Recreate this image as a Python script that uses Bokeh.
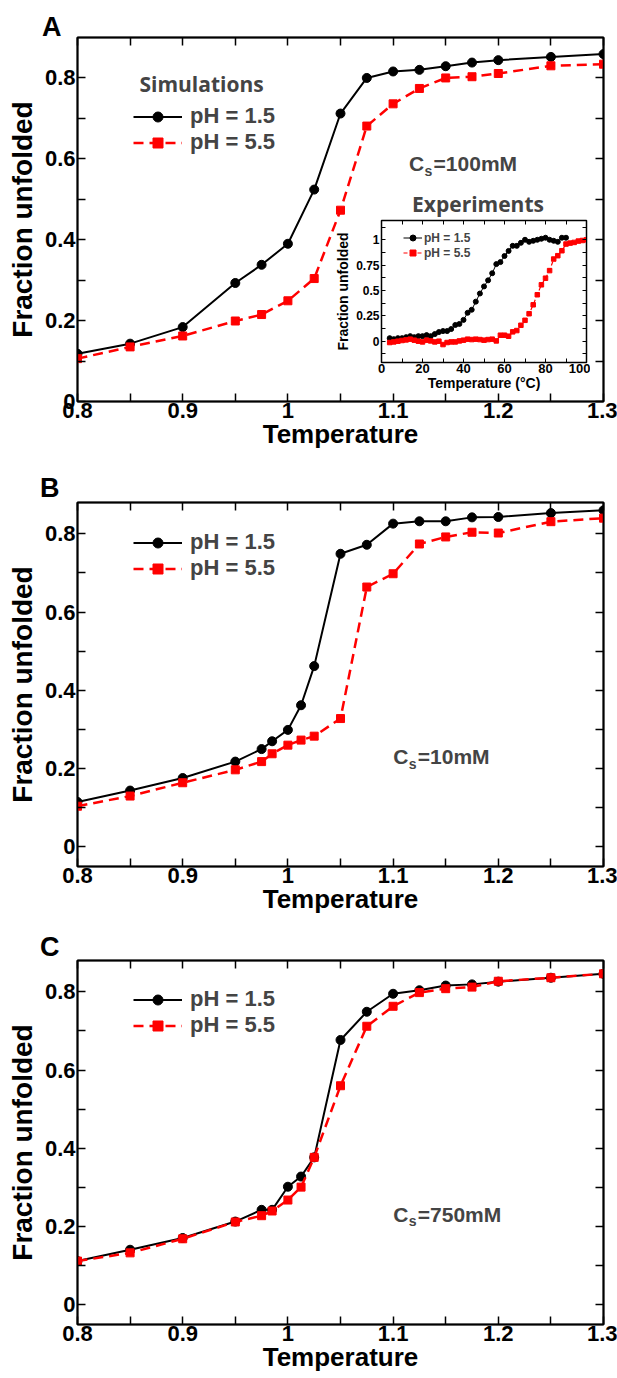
from bokeh.plotting import figure
from bokeh.models import (Range1d, FixedTicker, LinearAxis, CustomJSTickFormatter,
                          Label, Legend, LegendItem, Div)
from bokeh.layouts import column
from bokeh.embed import file_html
from bokeh.resources import INLINE

# ---------------- data ----------------
temps_a = [0.8, 0.85, 0.9, 0.95, 0.975, 1.0, 1.025, 1.05, 1.075, 1.1, 1.125, 1.15, 1.175, 1.2, 1.25, 1.3]
a_ph15 = [0.118, 0.143, 0.184, 0.293, 0.338, 0.390, 0.524, 0.712, 0.800, 0.816, 0.820, 0.829, 0.838, 0.844, 0.852, 0.859]
a_ph55 = [0.106, 0.135, 0.162, 0.199, 0.215, 0.249, 0.304, 0.473, 0.681, 0.736, 0.774, 0.800, 0.803, 0.811, 0.830, 0.834]

temps_bc = [0.8, 0.85, 0.9, 0.95, 0.975, 0.985, 1.0, 1.0125, 1.025, 1.05, 1.075, 1.1, 1.125, 1.15, 1.175, 1.2, 1.25, 1.3]
b_ph15 = [0.115, 0.144, 0.176, 0.218, 0.250, 0.270, 0.299, 0.362, 0.462, 0.749, 0.772, 0.826, 0.832, 0.832, 0.842, 0.843, 0.853, 0.860]
b_ph55 = [0.104, 0.130, 0.164, 0.197, 0.218, 0.238, 0.260, 0.273, 0.283, 0.328, 0.664, 0.698, 0.774, 0.792, 0.804, 0.802, 0.831, 0.840]
c_ph15 = [0.112, 0.141, 0.171, 0.213, 0.243, 0.243, 0.302, 0.328, 0.377, 0.677, 0.749, 0.795, 0.804, 0.816, 0.819, 0.826, 0.836, 0.846]
c_ph55 = [0.112, 0.133, 0.169, 0.212, 0.228, 0.240, 0.268, 0.301, 0.377, 0.560, 0.712, 0.763, 0.798, 0.808, 0.812, 0.827, 0.836, 0.846]

exp_t15 = [4, 6, 8, 10, 12, 14, 16, 18, 20, 22, 24, 26, 28, 30, 32, 34, 36, 38, 40, 42, 44, 46,
           48, 50, 52, 54, 56, 58, 60, 62, 64, 66, 68, 70, 72, 74, 76, 78, 80, 82, 84, 86, 88, 90]
exp_f15 = [0.03, 0.02, 0.03, 0.03, 0.04, 0.05, 0.04, 0.05, 0.05, 0.06, 0.05, 0.07, 0.09, 0.10, 0.10,
           0.12, 0.16, 0.17, 0.21, 0.28, 0.31, 0.39, 0.47, 0.54, 0.60, 0.67, 0.76, 0.78, 0.84, 0.89,
           0.94, 0.94, 0.97, 1.00, 0.98, 0.99, 1.00, 1.01, 1.02, 1.00, 0.99, 0.98, 1.02, 1.02]
exp_t55 = [4, 6, 8, 10, 12, 14, 16, 18, 20, 22, 24, 26, 28, 30, 32, 34, 36, 38, 40, 42, 44, 46, 48,
           50, 52, 54, 56, 58, 60, 62, 64, 66, 68, 70, 72, 74, 76, 78, 80, 82, 84, 86, 88, 90, 92,
           94, 96, 98, 100]
exp_f55 = [-0.013, -0.007, 0.0, 0.007, 0.013, 0.02, 0.01, 0.0, -0.007, 0.01, 0.003, -0.007, 0.0,
           -0.033, -0.013, -0.007, -0.007, 0.003, 0.01, 0.02, 0.016, 0.02, 0.016, 0.01, 0.016, 0.02,
           0.003, 0.059, 0.059, 0.049, 0.092, 0.105, 0.157, 0.206, 0.271, 0.359, 0.458, 0.556, 0.621,
           0.696, 0.81, 0.843, 0.892, 0.958, 0.967, 0.974, 0.987, 0.993, 1.0]

x_ticks = [0.8, 0.9, 1.0, 1.1, 1.2, 1.3]
x_tick_labels = ["0.8", "0.9", "1", "1.1", "1.2", "1.3"]
x_minor = [0.85, 0.95, 1.05, 1.15, 1.25]
y_ticks = [0.0, 0.2, 0.4, 0.6, 0.8]
y_tick_labels = ["0", "0.2", "0.4", "0.6", "0.8"]
y_minor = [0.1, 0.3, 0.5, 0.7]

ix_ticks = [0, 20, 40, 60, 80, 100]
ix_tick_labels = ["0", "20", "40", "60", "80", "100"]
ix_minor = [10, 30, 50, 70, 90]
iy_ticks = [0.0, 0.25, 0.5, 0.75, 1.0]
iy_tick_labels = ["0", "0.25", "0.5", "0.75", "1"]
iy_minor = [-0.125, 0.125, 0.375, 0.625, 0.875, 1.125]

series_labels = ["pH = 1.5", "pH = 5.5"]
panel_letters = ["A", "B", "C"]
salt_labels = ["=100mM", "=10mM", "=750mM"]

FONT = "Liberation Sans"
RED = "#ff0000"
LIFT = 6  # px: labels render slightly below their anchor baseline


def fmt(vals, labels):
    return CustomJSTickFormatter(args=dict(vals=vals, labels=labels), code="""
        for (let i = 0; i < vals.length; i++) {
            if (Math.abs(vals[i] - tick) < 1e-9) return labels[i];
        }
        return '';
    """)


BLANK = "return '';"


def style_axis(ax, tick_len, lw, label_px, font_size):
    ax.axis_line_color = "black"
    ax.axis_line_width = lw
    ax.major_tick_in = tick_len
    ax.major_tick_out = 0
    ax.minor_tick_in = tick_len
    ax.minor_tick_out = 0
    ax.major_tick_line_width = lw
    ax.minor_tick_line_width = lw
    ax.major_tick_line_color = "black"
    ax.minor_tick_line_color = "black"
    ax.major_label_text_font = FONT
    ax.major_label_text_font_style = "bold"
    ax.major_label_text_font_size = font_size
    ax.major_label_text_color = "black"
    ax.axis_label_text_font = FONT
    ax.axis_label_text_font_style = "bold"
    ax.axis_label_text_font_size = label_px
    ax.axis_label_text_color = "black"


def make_panel(yr, top, fh, bottom, ys15, ys55, temps, legend_y):
    p = figure(frame_width=526, frame_height=fh,
               x_range=Range1d(0.8, 1.3), y_range=Range1d(*yr),
               min_border_left=77, min_border_right=14, min_border_top=top,
               min_border_bottom=bottom,
               output_backend="svg", toolbar_location=None,
               x_axis_label="Temperature", y_axis_label="Fraction unfolded")
    p.grid.visible = False
    p.outline_line_color = "black"
    p.outline_line_width = 2
    p.background_fill_color = "white"
    p.border_fill_color = "white"

    xt = FixedTicker(ticks=x_ticks, minor_ticks=x_minor)
    yt = FixedTicker(ticks=y_ticks, minor_ticks=y_minor)
    p.xaxis.ticker = xt
    p.yaxis.ticker = yt
    p.xaxis.formatter = fmt(x_ticks, x_tick_labels)
    p.yaxis.formatter = fmt(y_ticks, y_tick_labels)
    for ax in p.xaxis + p.yaxis:
        style_axis(ax, 8, 1.5, "26px", "22px")
    p.xaxis.major_label_standoff = 1
    p.xaxis.axis_label_standoff = -2
    p.yaxis.major_label_standoff = 2
    p.yaxis.axis_label_standoff = 4
    p.yaxis.axis_label_text_font_size = "28px"

    top_ax = LinearAxis(ticker=xt, formatter=CustomJSTickFormatter(code=BLANK),
                        major_label_standoff=0)
    right_ax = LinearAxis(ticker=yt, formatter=CustomJSTickFormatter(code=BLANK),
                          major_label_standoff=0)
    style_axis(top_ax, 8, 1.5, "10px", "10px")
    style_axis(right_ax, 8, 1.5, "10px", "10px")
    p.add_layout(top_ax, "above")
    p.add_layout(right_ax, "right")

    l1 = p.line(temps, ys15, line_color="black", line_width=2)
    s1 = p.scatter(temps, ys15, marker="circle", size=9, fill_color="black", line_color="black")
    l2 = p.line(temps, ys55, line_color=RED, line_width=2.5, line_dash="10 6")
    s2 = p.scatter(temps, ys55, marker="square", size=8, fill_color=RED, line_color=RED)

    leg = Legend(items=[LegendItem(label=series_labels[0], renderers=[l1, s1]),
                        LegendItem(label=series_labels[1], renderers=[l2, s2])],
                 location=(56, legend_y), glyph_width=49, glyph_height=25,
                 label_height=25, label_standoff=8, spacing=0, padding=0, margin=0,
                 border_line_alpha=0, background_fill_alpha=0,
                 label_text_font=FONT, label_text_font_style="bold",
                 label_text_font_size="22px")
    p.add_layout(leg)
    return p


# page y: A 0..469 (frame 37..401); B 469..927 (frame 502..866); C 927..1377 (frame 960..1324)
pA = make_panel((0.0, 0.9), 37, 364, 68, a_ph15, a_ph55, temps_a, 246)
pB = make_panel((-0.05, 0.88), 33, 364, 61, b_ph15, b_ph55, temps_bc, 285)
pC = make_panel((-0.05, 0.88), 33, 364, 50, c_ph15, c_ph55, temps_bc, 286)


def salt(p, x, y, idx):
    common = dict(text_font=FONT, text_font_style="bold", text_baseline="alphabetic")
    p.add_layout(Label(x=x, y=y, y_offset=LIFT, text="C", text_font_size="21px", **common))
    p.add_layout(Label(x=x, y=y, x_offset=15.5, y_offset=LIFT - 7, text="s",
                       text_font_size="14px", **common))
    p.add_layout(Label(x=x, y=y, x_offset=24.5, y_offset=LIFT, text=salt_labels[idx],
                       text_font_size="21px", **common))


salt(pA, 1.1152, 0.573, 0)
salt(pB, 1.1002, 0.215, 1)
salt(pC, 1.1002, 0.216, 2)

pA.add_layout(Label(x=0.8589, y=0.7707, y_offset=LIFT, text="Simulations", text_font="Open Sans",
                    text_font_style="bold", text_font_size="21px", text_baseline="alphabetic"))
pA.add_layout(Label(x=1.1807, y=0.4723, y_offset=LIFT, text="Experiments", text_font="Open Sans",
                    text_font_style="bold", text_font_size="21px", text_baseline="alphabetic",
                    text_align="center"))

# ---------------- inset ----------------
ins = figure(frame_width=205, frame_height=142,
             x_range=Range1d(0, 100), y_range=Range1d(-0.21, 1.19),
             min_border_left=44, min_border_right=4, min_border_top=4, min_border_bottom=33,
             output_backend="svg", toolbar_location=None,
             x_axis_label="Temperature (°C)", y_axis_label="Fraction unfolded")
ins.grid.visible = False
ins.outline_line_color = "black"
ins.outline_line_width = 1.5
ins.background_fill_color = "white"
ins.border_fill_alpha = 0
ixt = FixedTicker(ticks=ix_ticks, minor_ticks=ix_minor)
iyt = FixedTicker(ticks=iy_ticks, minor_ticks=iy_minor)
ins.xaxis.ticker = ixt
ins.yaxis.ticker = iyt
ins.xaxis.formatter = fmt(ix_ticks, ix_tick_labels)
ins.yaxis.formatter = fmt(iy_ticks, iy_tick_labels)
for ax in ins.xaxis + ins.yaxis:
    style_axis(ax, 4, 1, "14px", "13px")
ins.yaxis.major_label_text_font_size = "12px"
ins.xaxis.major_label_standoff = 1
ins.xaxis.axis_label_standoff = -1
ins.yaxis.major_label_standoff = 2
ins.yaxis.axis_label_standoff = 2
itop = LinearAxis(ticker=ixt, formatter=CustomJSTickFormatter(code=BLANK), major_label_standoff=0)
iright = LinearAxis(ticker=iyt, formatter=CustomJSTickFormatter(code=BLANK), major_label_standoff=0)
style_axis(itop, 4, 1, "6px", "6px")
style_axis(iright, 4, 1, "6px", "6px")
ins.add_layout(itop, "above")
ins.add_layout(iright, "right")

il1 = ins.line(exp_t15, exp_f15, line_color="black", line_width=1)
is1 = ins.scatter(exp_t15, exp_f15, marker="circle", size=5, fill_color="black", line_color="black")
il2 = ins.line(exp_t55, exp_f55, line_color=RED, line_width=1.2, line_dash="4 3")
is2 = ins.scatter(exp_t55, exp_f55, marker="square", size=4.5, fill_color=RED, line_color=RED)
ileg = Legend(items=[LegendItem(label=series_labels[0], renderers=[il1, is1]),
                     LegendItem(label=series_labels[1], renderers=[il2, is2])],
              location=(22, 102), glyph_width=19, glyph_height=15, label_height=15,
              label_standoff=2, spacing=0, padding=0, margin=0,
              border_line_alpha=0, background_fill_alpha=0,
              label_text_font=FONT, label_text_font_style="bold", label_text_font_size="12px")
ins.add_layout(ileg)
ins.styles = {"position": "absolute", "left": "332px", "top": "216px", "z-index": "5"}


# ---------------- panel letters ----------------
def letter(txt, left, top):
    return Div(text=txt, margin=0,
               styles={"position": "absolute", "left": f"{left}px", "top": f"{top}px",
                       "font-family": FONT, "font-weight": "bold", "font-size": "27px",
                       "line-height": "27px", "white-space": "nowrap", "z-index": "6",
                       "color": "black"})


letters = [letter(panel_letters[0], 42, 14),
           letter(panel_letters[1], 40, 475),
           letter(panel_letters[2], 40, 934)]

layout = column(pA, pB, pC, spacing=0)
open("out.html", "w").write(file_html([layout, ins] + letters, INLINE))
